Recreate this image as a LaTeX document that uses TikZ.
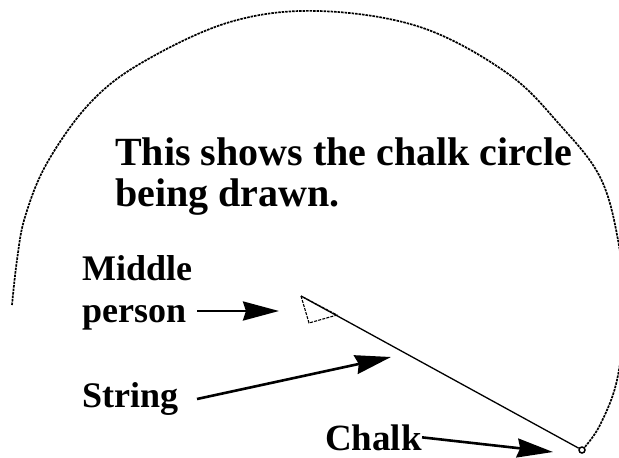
\documentclass[tikz,border=0pt]{standalone}
\usepackage{fontspec}
\setmainfont{Liberation Serif}
\usetikzlibrary{arrows.meta}

\begin{document}
\begin{tikzpicture}[x=1pt, y=-1pt,
  tag/.style={anchor=base west, inner sep=0pt, align=left,
    font=\fontsize{36}{42}\selectfont\bfseries},
  pointer/.style={line width=2.6pt, -{Stealth[length=36pt, width=19pt, inset=3pt]}},
  chalkline/.style={line width=1.7pt, black, dash pattern=on 2.5pt off 1pt}]
  \useasboundingbox (0,0) rectangle (619,458);

  % the chalk circle, drawn by hand round the middle person
  \draw[chalkline] plot[smooth, tension=0.6] coordinates {
    (12,305) (17,260) (25,217) (47,163) (90,103) (143,62) (230,22) (318,11)
    (420,27) (507,73) (560,125) (600,177) (618,240) (625,310) (617,380)
    (600,425) (584,448)};

  % middle person and the string
  \coordinate (mp) at (301,296);
  \draw[line width=1.1pt, dash pattern=on 3pt off 1.2pt]
    (mp) -- (309,323) -- (337,315) -- cycle;
  \node[draw, circle, line width=1.5pt, inner sep=0pt, minimum size=6pt] (chalk) at (582,450) {};
  \draw[line width=1.3pt] (mp) -- (chalk);

  % texts (base = last line)
  \node[tag, font=\fontsize{40}{41}\selectfont\bfseries] (info) at (115,206)
    {This shows the chalk circle\\being drawn.};
  \node[tag] (middle) at (82,322) {Middle\\person};
  \node[tag] (string) at (82,407) {String};
  \node[tag, font=\fontsize{37}{42}\selectfont\bfseries] (chalktext) at (325,450) {Chalk};

  % arrows
  \coordinate (personA) at (197,311);
  \coordinate (personB) at (279,311);
  \coordinate (stringA) at (197,399);
  \coordinate (stringB) at (391,357);
  \coordinate (chalkB) at (553,452);
  \draw[pointer] (personA) -- (personB);
  \draw[pointer] (stringA) -- (stringB);
  \draw[pointer] (chalktext.east) -- (chalkB);
\end{tikzpicture}
\end{document}
